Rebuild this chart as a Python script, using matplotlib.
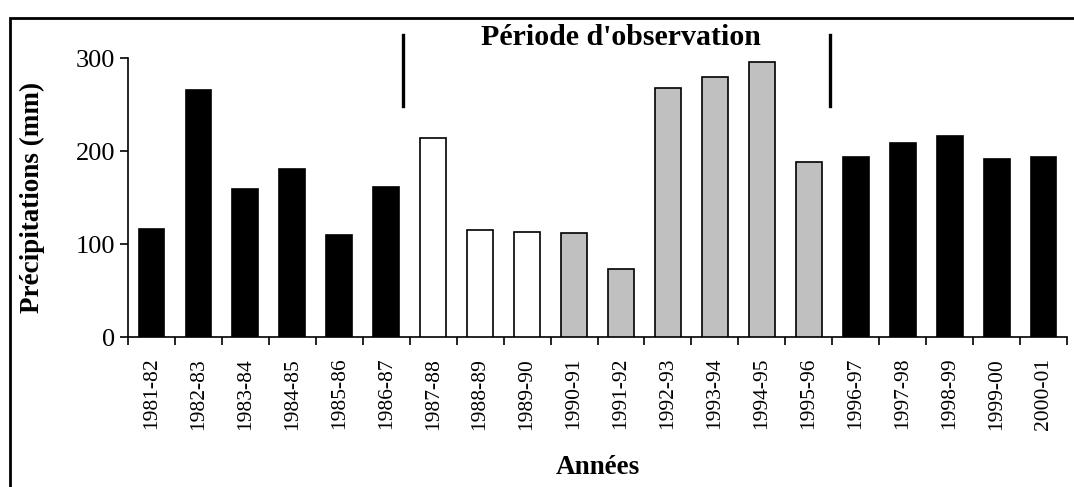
import matplotlib
matplotlib.use('Agg')
import matplotlib.pyplot as plt
from matplotlib.patches import Rectangle
import numpy as np

# Data
years = ["1981-82", "1982-83", "1983-84", "1984-85", "1985-86", "1986-87",
         "1987-88", "1988-89", "1989-90", "1990-91", "1991-92", "1992-93",
         "1993-94", "1994-95", "1995-96", "1996-97", "1997-98", "1998-99",
         "1999-00", "2000-01"]
precip = [116, 266, 159, 181, 110, 162,
          214, 115, 113, 112, 73, 268,
          280, 296, 189, 194, 209, 216,
          192, 194]
# groups: 'out' = outside observation period, 'dry' = white, 'wet' = gray
groups = ["out"] * 6 + ["dry"] * 3 + ["wet"] * 6 + ["out"] * 5
group_colors = {"out": "black", "dry": "white", "wet": "#c0c0c0"}
y_ticks = [0, 100, 200, 300]

plt.rcParams['font.family'] = ['Liberation Serif', 'DejaVu Serif']

fig = plt.figure(figsize=(10.74, 4.87), dpi=100)
ax = fig.add_axes([0.1192, 0.308, 0.8743, 0.572])

x = np.arange(len(years))
ax.bar(x, precip, width=0.55, color=[group_colors[g] for g in groups],
       edgecolor='black', linewidth=1.2, zorder=3)

ax.set_xlim(-0.5, len(years) - 0.5)
ax.set_ylim(0, 300)
ax.set_yticks(y_ticks)
ax.tick_params(axis='y', labelsize=19, length=6, width=1.2, pad=3)

ax.set_xticks(x)
ax.set_xticklabels(years, rotation=90, fontsize=15.5)
ax.tick_params(axis='x', which='major', length=0, pad=15)
ax.set_xticks(np.arange(-0.5, len(years)), minor=True)
ax.tick_params(axis='x', which='minor', length=6, width=1.2)

for side in ['top', 'right']:
    ax.spines[side].set_visible(False)
for side in ['left', 'bottom']:
    ax.spines[side].set_linewidth(1.2)

ax.set_ylabel("Précipitations (mm)", fontsize=19.5, fontweight='bold', labelpad=22)
ax.set_xlabel("Années", fontsize=19.5, fontweight='bold', labelpad=18)

# observation period markers
for xm in [5.36, 14.46]:
    ax.plot([xm, xm], [249, 325], color='black', linewidth=2.4, clip_on=False)
ax.text(10.0, 314, "Période d'observation", ha='center', va='baseline',
        fontsize=21.5, fontweight='bold')

# outer frame (cut at right and bottom edges)
fig.patches.append(Rectangle((9.5 / 1074, -0.1), 1.2, 1 - 17.5 / 487 + 0.1,
                             transform=fig.transFigure, fill=False,
                             edgecolor='black', linewidth=2.0))

plt.savefig('out.png', dpi=100, facecolor='white')
